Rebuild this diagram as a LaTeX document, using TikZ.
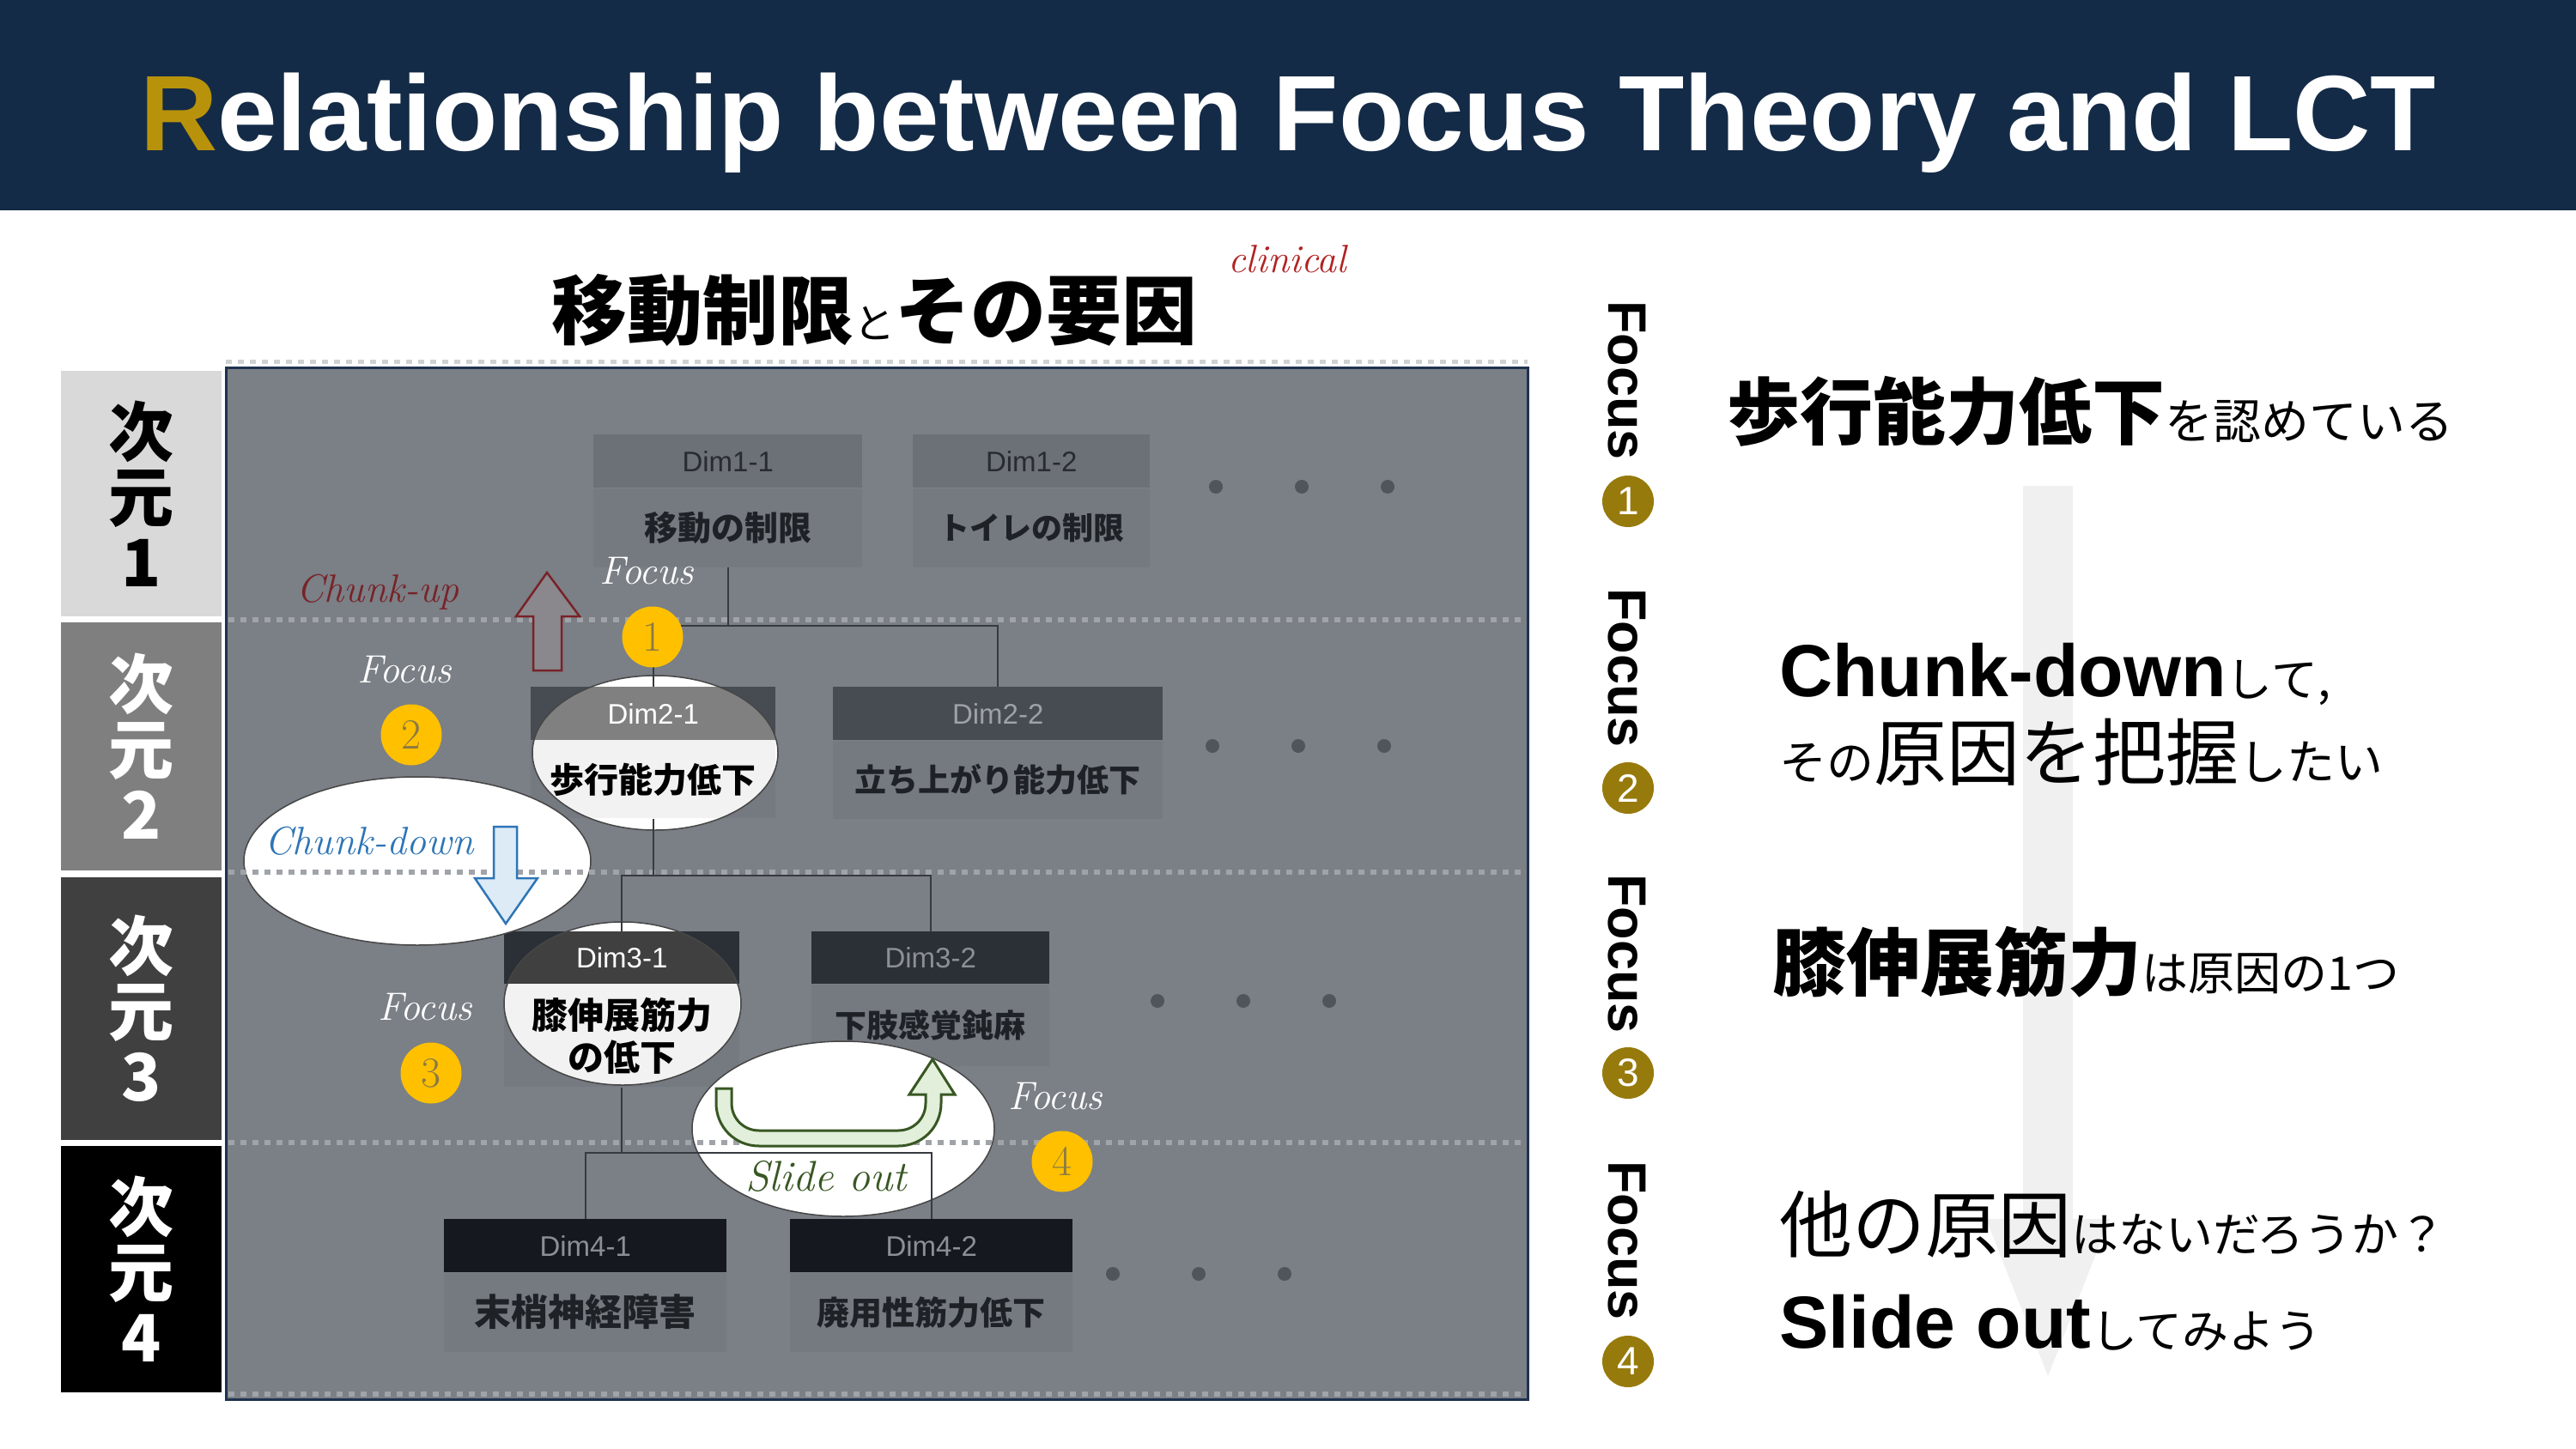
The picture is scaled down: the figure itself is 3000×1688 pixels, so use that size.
\documentclass[tikz,border=0pt]{standalone}
\usepackage{fontspec}
\usepackage{xcolor}
\usepackage{tikz}
\usetikzlibrary{positioning,calc}

\newfontfamily\jpfont{Noto Sans CJK JP}
\newfontfamily\arialf{Liberation Sans}
\newcommand{\fsz}[1]{\fontsize{#1}{#1}\selectfont}
\newcommand{\handf}{\rmfamily\itshape}

\definecolor{bandnavy}{RGB}{20,43,71}
\definecolor{titlegold}{RGB}{184,146,10}
\definecolor{panelgray}{RGB}{123,127,134}
\definecolor{panelrim}{RGB}{31,50,80}
\definecolor{dotgray}{RGB}{160,163,168}
\definecolor{bodygray}{RGB}{117,121,128}
\definecolor{headone}{RGB}{108,112,119}
\definecolor{headtwo}{RGB}{71,75,82}
\definecolor{headthree}{RGB}{43,47,54}
\definecolor{headfour}{RGB}{21,24,30}
\definecolor{inkdark}{RGB}{30,33,38}
\definecolor{inkhead}{RGB}{40,43,48}
\definecolor{inkpale}{RGB}{140,144,150}
\definecolor{inkpaler}{RGB}{158,161,166}
\definecolor{linkgray}{RGB}{55,58,64}
\definecolor{dotdark}{RGB}{80,84,91}
\definecolor{badgeyellow}{RGB}{255,192,0}
\definecolor{badgeink}{RGB}{139,122,69}
\definecolor{badgegold}{RGB}{151,122,12}
\definecolor{upred}{RGB}{120,35,40}
\definecolor{upfill}{RGB}{138,136,140}
\definecolor{downblue}{RGB}{46,117,182}
\definecolor{downfill}{RGB}{221,235,247}
\definecolor{slidegreen}{RGB}{56,87,35}
\definecolor{slidefill}{RGB}{226,239,218}
\definecolor{clinred}{RGB}{178,34,34}
\definecolor{lensgray}{RGB}{128,128,128}
\definecolor{lensdark}{RGB}{64,64,64}
\definecolor{lenspale}{RGB}{242,242,242}
\definecolor{rimgray}{RGB}{70,70,70}
\definecolor{arrowpale}{RGB}{240,240,240}
\definecolor{dimone}{RGB}{217,217,217}
\definecolor{dimtwo}{RGB}{127,127,127}
\definecolor{dimthree}{RGB}{64,64,64}

\begin{document}
\begin{tikzpicture}[x=1pt, y=-1pt,
    dimlabel/.style={rectangle, inner sep=0pt, minimum width=187pt, align=center, font=\jpfont\bfseries\fontsize{76}{76}\selectfont},
    dimhead/.style={rectangle, inner sep=0pt, minimum height=62pt, anchor=north west, font=\arialf\fsz{33}},
    dimbody/.style={rectangle, inner sep=0pt, fill=bodygray, text=inkdark, font=\jpfont\bfseries\fsz{38}},
    lensrim/.style={draw=rimgray, line width=1.5pt},
    levelsep/.style={draw=dotgray, line width=6pt, dash pattern=on 7pt off 7pt},
    treeline/.style={draw=linkgray, line width=2pt},
    yellowbadge/.style={circle, fill=badgeyellow, minimum size=71pt, inner sep=0pt, text=badgeink, font=\rmfamily\fsz{50}},
    goldbadge/.style={circle, fill=badgegold, minimum size=60pt, inner sep=0pt, text=white, font=\arialf\fsz{46}},
    handlabel/.style={inner sep=0pt, font=\handf\fsz{46}},
    focusv/.style={rotate=-90, inner sep=0pt, font=\arialf\bfseries\fsz{63}},
    rtext/.style={anchor=base west, inner sep=0pt}]

    \useasboundingbox (0,0) rectangle (3000,1688);
    \fill[white] (0,0) rectangle (3000,1688);

    % title band
    \fill[bandnavy] (0,0) rectangle (3000,245);
    \node[anchor=base, text=white, font=\arialf\bfseries\fsz{125}] (title) at (1500,176) {\textcolor{titlegold}{R}elationship between Focus Theory and LCT};

    % levels on the left
    \node[dimlabel, fill=dimone, text=black, minimum height=286pt] (lev1) at (164.5,575) {次\\元\\1};
    \node[dimlabel, fill=dimtwo, text=white, minimum height=289pt] (lev2) at (164.5,869.5) {次\\元\\2};
    \node[dimlabel, fill=dimthree, text=white, minimum height=306pt] (lev3) at (164.5,1175) {次\\元\\3};
    \node[dimlabel, fill=black, text=white, minimum height=287pt] (lev4) at (164.5,1478.5) {次\\元\\4};

    % heading of the tree
    \node[anchor=base, font=\jpfont\bfseries\fsz{88}] (subtitle) at (1018,394) {移動制限{\mdseries\fsz{48}と}その要因};
    \node[text=clinred, inner sep=0pt, font=\handf\fsz{46}] (clin) at (1499,302) {clinical};

    % panel
    \draw[fill=panelgray, draw=panelrim, line width=3pt] (263,428) rectangle (1779,1630);
    \draw[draw=dotgray!50, line width=5pt, dash pattern=on 7pt off 7pt] (263,421) -- (1779,421);
    \draw[levelsep] (266,1624) -- (1776,1624);

    % dimension boxes
    \node[dimhead, fill=headone, text=inkhead, minimum width=313pt] (d11h) at (691,506) {Dim1-1};
    \node[dimbody, font=\jpfont\bfseries\fsz{39}, minimum width=313pt, minimum height=92pt, below=0pt of d11h] (d11) {移動の制限};
    \node[dimhead, fill=headone, text=inkhead, minimum width=276pt] (d12h) at (1063,506) {Dim1-2};
    \node[dimbody, font=\jpfont\bfseries\fsz{36}, minimum width=276pt, minimum height=92pt, below=0pt of d12h] (d12) {トイレの制限};

    \fill[headtwo] (618,800) rectangle (903,862);
    \fill[bodygray] (618,862) rectangle (903,953);
    \node[dimhead, fill=headtwo, text=inkpaler, minimum width=384pt] (d22h) at (970,800) {Dim2-2};
    \node[dimbody, font=\jpfont\bfseries\fsz{37}, minimum width=384pt, minimum height=91pt, below=0pt of d22h] (d22) {立ち上がり能力低下};

    \fill[headthree] (587,1085) rectangle (861,1146);
    \fill[bodygray] (587,1146) rectangle (861,1266);
    \node[dimhead, fill=headthree, text=inkpale, minimum width=277pt, minimum height=61pt] (d32h) at (945,1085) {Dim3-2};
    \node[dimbody, font=\jpfont\bfseries\fsz{37}, minimum width=277pt, minimum height=95pt, below=0pt of d32h] (d32) {下肢感覚鈍麻};

    \node[dimhead, fill=headfour, text=inkpale, minimum width=329pt] (d41h) at (517,1420) {Dim4-1};
    \node[dimbody, font=\jpfont\bfseries\fsz{43}, minimum width=329pt, minimum height=92pt, below=0pt of d41h] (d41) {末梢神経障害};
    \node[dimhead, fill=headfour, text=inkpale, minimum width=329pt] (d42h) at (920,1420) {Dim4-2};
    \node[dimbody, font=\jpfont\bfseries\fsz{38}, minimum width=329pt, minimum height=92pt, below=0pt of d42h] (d42) {廃用性筋力低下};

    % white ellipses
    \draw[lensrim, fill=white] (486,1003) ellipse [x radius=202pt, y radius=98pt];
    \draw[lensrim, fill=white] (982,1315) ellipse [x radius=176pt, y radius=102pt];

    % magnified boxes
    \begin{scope}
        \clip (763,877) ellipse [x radius=143pt, y radius=90pt];
        \fill[white] (600,770) rectangle (920,990);
        \fill[lensgray] (618,800) rectangle (903,862);
        \fill[lenspale] (618,862) rectangle (903,953);
    \end{scope}
    \draw[lensrim] (763,877) ellipse [x radius=143pt, y radius=90pt];
    \begin{scope}
        \clip (725,1169) ellipse [x radius=138pt, y radius=95pt];
        \fill[white] (580,1065) rectangle (870,1275);
        \fill[lensdark] (587,1085) rectangle (861,1146);
        \fill[lenspale] (587,1146) rectangle (861,1266);
    \end{scope}
    \draw[lensrim] (725,1169) ellipse [x radius=138pt, y radius=95pt];

    \node[dimhead, text=white, minimum width=285pt] (d21h) at (618,800) {Dim2-1};
    \node[dimbody, fill=none, text=black, font=\jpfont\bfseries\fsz{40}, minimum width=285pt, minimum height=91pt, below=0pt of d21h] (d21) {歩行能力低下};
    \node[dimhead, text=white, minimum width=274pt, minimum height=61pt] (d31h) at (587,1085) {Dim3-1};
    \node[dimbody, fill=none, text=black, align=center, font=\jpfont\bfseries\fontsize{42}{49}\selectfont, minimum width=274pt, minimum height=120pt, below=0pt of d31h] (d31) {膝伸展筋力\\の低下};

    % level separators
    \foreach \sy in {722,1016,1331}
        \draw[levelsep] (266,\sy) -- (1776,\sy);

    % tree
    \coordinate (j1) at (d11.south |- 0,729);
    \coordinate (j2) at (d21.south |- 0,1020);
    \coordinate (j3) at (d31.south |- 0,1343);
    \draw[treeline] (d11.south) -- (j1);
    \draw[treeline] (d21h.north) |- (j1) -| (d22h.north);
    \draw[treeline] (d21.south) -- (j2);
    \draw[treeline] (d31h.north) |- (j2) -| (d32h.north);
    \draw[treeline] (d31.south) -- (j3);
    \draw[treeline] (d41h.north) |- (j3) -| (d42h.north);

    % more boxes to the right
    \foreach \dx in {0,100,200} {
        \fill[dotdark] (1416+\dx,567) circle (8pt);
        \fill[dotdark] (1412+\dx,869) circle (8pt);
        \fill[dotdark] (1348+\dx,1166) circle (8pt);
        \fill[dotdark] (1296+\dx,1484) circle (8pt);
    }

    % chunk-up / chunk-down / slide out
    \draw[upred, line width=2.5pt, fill=upfill] (621,781) -- (621,718) -- (601,718) -- (637,667) -- (675,718) -- (654,718) -- (654,781) -- cycle;
    \node[handlabel, text=upred] (cu) at (440,690) {Chunk-up};
    \draw[downblue, line width=2.5pt, fill=downfill] (575,963) -- (602,963) -- (602,1023) -- (626,1023) -- (589,1076) -- (553,1023) -- (575,1023) -- cycle;
    \node[handlabel, text=downblue] (cd) at (430,980) {Chunk-down};
    \draw[slidegreen, line width=3pt, fill=slidefill] (834,1268) -- (834,1285)
        .. controls (834,1313) and (856,1335) .. (884,1335) -- (1046,1335)
        .. controls (1074,1335) and (1096,1313) .. (1096,1285) -- (1096,1275)
        -- (1112,1275) -- (1086,1234) -- (1059,1275) -- (1078,1275) -- (1078,1285)
        .. controls (1078,1303) and (1064,1317) .. (1046,1317) -- (884,1317)
        .. controls (866,1317) and (852,1303) .. (852,1285) -- (852,1268) -- cycle;
    \node[handlabel, text=slidegreen, font=\handf\fsz{50}] (so) at (962,1370) {Slide out};

    % focus marks in the tree
    \node[yellowbadge] (yb1) at (760,742) {1};
    \node[yellowbadge] (yb2) at (479,856) {2};
    \node[yellowbadge] (yb3) at (502,1250) {3};
    \node[yellowbadge] (yb4) at (1237,1353) {4};
    \node[handlabel, text=white] (fl1) at (753,665) {Focus};
    \node[handlabel, text=white] (fl2) at (471,780) {Focus};
    \node[handlabel, text=white] (fl3) at (495,1173) {Focus};
    \node[handlabel, text=white] (fl4) at (1229,1277) {Focus};

    % right side
    \fill[arrowpale] (2356,566) -- (2414,566) -- (2414,1420) -- (2457,1420) -- (2385,1603) -- (2313,1420) -- (2356,1420) -- cycle;

    \node[focusv] (fv1) at (1895,443) {Focus};
    \node[focusv] (fv2) at (1895,778) {Focus};
    \node[focusv] (fv3) at (1895,1111) {Focus};
    \node[focusv] (fv4) at (1895,1445) {Focus};
    \node[goldbadge] (gb1) at (1896,584) {1};
    \node[goldbadge] (gb2) at (1896,918) {2};
    \node[goldbadge] (gb3) at (1896,1250) {3};
    \node[goldbadge] (gb4) at (1896,1586) {4};

    \node[rtext] (r1) at (2011,511) {{\jpfont\bfseries\fsz{85}歩行能力低下}{\jpfont\fsz{56}を認めている}};
    \node[rtext] (r2) at (2072,811) {{\arialf\bfseries\fsz{86}Chunk-down}{\jpfont\fsz{54}して,}};
    \node[rtext] (r2b) at (2072,908) {{\jpfont\fsz{55}その}{\jpfont\fsz{85}原因を把握}{\jpfont\fsz{56}したい}};
    \node[rtext] (r3) at (2064,1153) {{\jpfont\bfseries\fsz{86}膝伸展筋力}{\jpfont\fsz{54}は原因の1つ}};
    \node[rtext] (r4) at (2072,1458) {{\jpfont\fsz{85}他の原因}{\jpfont\fsz{55}はないだろうか？}};
    \node[rtext] (r4b) at (2072,1570) {{\arialf\bfseries\fsz{86}Slide out}{\jpfont\fsz{54}してみよう}};
\end{tikzpicture}
\end{document}
